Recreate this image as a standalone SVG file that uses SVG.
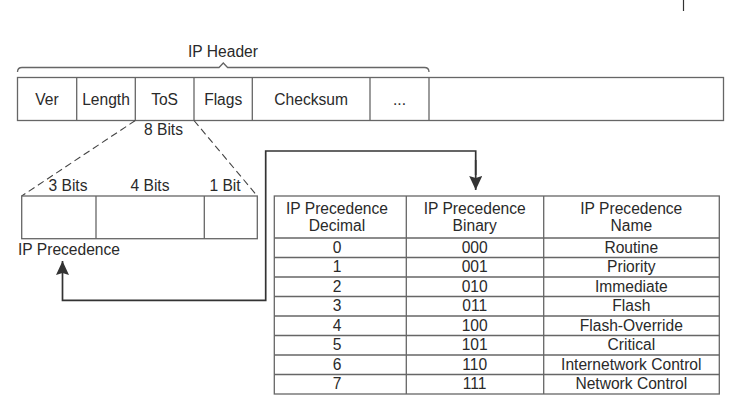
<svg xmlns="http://www.w3.org/2000/svg" width="752" height="411" viewBox="0 0 752 411">
<style>
.box{fill:#fff;stroke:#666;stroke-width:1.3}
.ln{fill:none;stroke:#666;stroke-width:1.3}
.dash{fill:none;stroke:#444;stroke-width:1.1;stroke-dasharray:7 4}
.con{fill:none;stroke:#333;stroke-width:1.7}
text{font-family:"Liberation Sans",Arial,sans-serif;font-size:15.6px;fill:#2a2a2a;text-anchor:middle}
.l{text-anchor:start}
</style>
<defs>
<marker id="arr" viewBox="0 0 14 13" refX="14" refY="6.5" markerWidth="14" markerHeight="13" markerUnits="userSpaceOnUse" orient="auto">
<path d="M0,0 L14,6.5 L0,13 L2,6.5 Z" fill="#333"/>
</marker>
</defs>
<rect width="752" height="411" fill="#fff"/>
<line x1="683.5" y1="0" x2="683.5" y2="11" stroke="#333" stroke-width="1.2"/>

<g id="ip-header">
<text x="223" y="57">IP Header</text>
<path class="ln" d="M17.5,72 Q17.5,67.5 22,67.5 L219,67.5 L223.3,63 L227.6,67.5 L424.5,67.5 Q429,67.5 429,72"/>
<rect class="box" x="17.5" y="77.5" width="706" height="43"/>
<line class="ln" x1="76.7" y1="77.5" x2="76.7" y2="120.5"/>
<line class="ln" x1="135.3" y1="77.5" x2="135.3" y2="120.5"/>
<line class="ln" x1="194" y1="77.5" x2="194" y2="120.5"/>
<line class="ln" x1="252.3" y1="77.5" x2="252.3" y2="120.5"/>
<line class="ln" x1="370" y1="77.5" x2="370" y2="120.5"/>
<line class="ln" x1="429" y1="77.5" x2="429" y2="120.5"/>
<text x="47" y="105">Ver</text>
<text x="106" y="105">Length</text>
<text x="164.6" y="105">ToS</text>
<text x="223.2" y="105">Flags</text>
<text x="311.2" y="105">Checksum</text>
<text x="399.5" y="105">...</text>
<text x="163.5" y="135">8 Bits</text>
</g>

<g id="tos-byte">
<line class="dash" x1="135.3" y1="120.5" x2="21.7" y2="196"/>
<line class="dash" x1="194" y1="120.5" x2="257.3" y2="196"/>
<text x="68" y="191">3 Bits</text>
<text x="150" y="191">4 Bits</text>
<text x="225" y="191">1 Bit</text>
<rect class="box" x="21.7" y="196" width="235.6" height="42.7"/>
<line class="ln" x1="96" y1="196" x2="96" y2="238.7"/>
<line class="ln" x1="204.3" y1="196" x2="204.3" y2="238.7"/>
<text class="l" x="18" y="254.5">IP Precedence</text>
</g>

<g id="connectors">
<path class="con" d="M475.7,175 L475.7,151 L265.7,151 L265.7,300.3 L62.5,300.3 L62.5,261" marker-end="url(#arr)"/>
<line class="con" x1="475.7" y1="160" x2="475.7" y2="190" marker-end="url(#arr)"/>
</g>

<g id="precedence-table">
<rect class="box" x="274.3" y="196" width="445" height="198"/>
<line class="ln" x1="406.3" y1="196" x2="406.3" y2="394"/>
<line class="ln" x1="543.7" y1="196" x2="543.7" y2="394"/>
<line class="ln" x1="274.3" y1="238" x2="719.3" y2="238"/>
<line class="ln" x1="274.3" y1="257.5" x2="719.3" y2="257.5"/>
<line class="ln" x1="274.3" y1="277" x2="719.3" y2="277"/>
<line class="ln" x1="274.3" y1="296.5" x2="719.3" y2="296.5"/>
<line class="ln" x1="274.3" y1="316" x2="719.3" y2="316"/>
<line class="ln" x1="274.3" y1="335.5" x2="719.3" y2="335.5"/>
<line class="ln" x1="274.3" y1="355" x2="719.3" y2="355"/>
<line class="ln" x1="274.3" y1="374.5" x2="719.3" y2="374.5"/>
<text x="337" y="214">IP Precedence</text>
<text x="337" y="231">Decimal</text>
<text x="474.7" y="214">IP Precedence</text>
<text x="474.7" y="231">Binary</text>
<text x="631.3" y="214">IP Precedence</text>
<text x="631.3" y="231">Name</text>
<text x="337" y="252.5">0</text><text x="474.7" y="252.5">000</text><text x="631.3" y="252.5">Routine</text>
<text x="337" y="272">1</text><text x="474.7" y="272">001</text><text x="631.3" y="272">Priority</text>
<text x="337" y="291.5">2</text><text x="474.7" y="291.5">010</text><text x="631.3" y="291.5">Immediate</text>
<text x="337" y="311">3</text><text x="474.7" y="311">011</text><text x="631.3" y="311">Flash</text>
<text x="337" y="330.5">4</text><text x="474.7" y="330.5">100</text><text x="631.3" y="330.5">Flash-Override</text>
<text x="337" y="350">5</text><text x="474.7" y="350">101</text><text x="631.3" y="350">Critical</text>
<text x="337" y="369.5">6</text><text x="474.7" y="369.5">110</text><text x="631.3" y="369.5">Internetwork Control</text>
<text x="337" y="389">7</text><text x="474.7" y="389">111</text><text x="631.3" y="389">Network Control</text>
</g>
</svg>
